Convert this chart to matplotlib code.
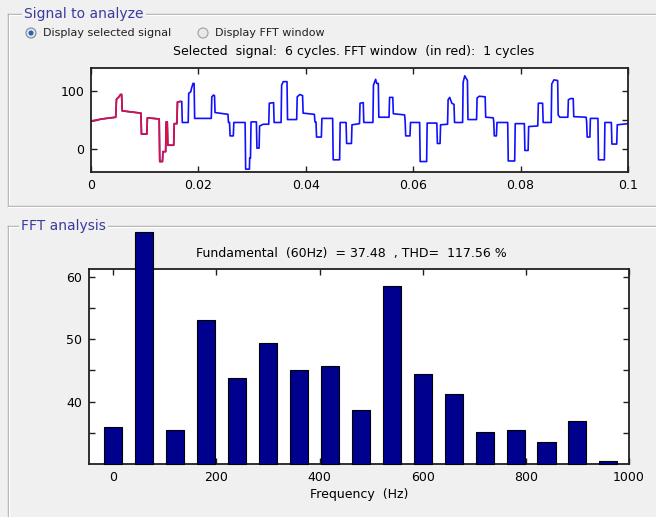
import numpy as np
import matplotlib.pyplot as plt
from matplotlib.patches import Circle

# ---- data ----
# selected signal: breakpoints (time in ms, value)
sig_t_ms = [0, 2.0, 4.6, 4.75, 5.2, 5.5, 5.7, 5.8, 9.3, 9.4, 10.4, 10.5, 12.7, 12.8,
            13.3, 13.4, 13.9, 14.0, 14.2, 14.3, 15.4, 15.5, 16.0, 16.1, 16.6,
            16.9, 17.0, 18.1, 18.2, 18.6, 18.7, 19.0, 19.2, 19.3, 22.4, 22.5, 22.8,
            23.0, 23.1, 25.5, 25.6, 25.8, 25.9, 26.5, 26.6, 28.7, 28.8, 29.5, 29.55,
            29.7, 29.8, 30.8, 30.9, 31.3, 31.4, 32.1, 33.1, 33.2, 34.0, 34.1, 35.4,
            35.5, 35.8, 36.5, 36.6,
            38.3, 38.4, 38.9, 39.4, 39.5, 41.6, 41.7, 41.9, 42.0, 42.9, 43.0, 45.0,
            45.1, 46.3, 46.4, 47.5, 47.6, 48.5, 48.6, 50.0, 50.1, 50.7, 50.8, 52.5,
            52.6, 53.0, 53.2, 53.5, 53.6, 55.5, 55.6, 56.2, 56.3, 58.4, 58.5, 58.6,
            59.4, 59.5, 61.2, 61.3, 62.5, 62.6, 64.4, 64.5, 65.0, 65.1, 66.4, 66.5,
            66.8, 67.2, 67.6, 67.7, 69.2, 69.3, 69.6, 70.1, 70.2, 71.8, 71.9, 72.3,
            73.4, 73.5, 74.9, 75.0, 75.1, 75.5, 75.6, 77.6, 77.7, 78.9, 79.0, 80.7,
            80.8, 81.4, 81.5, 83.2, 83.3, 84.1, 84.2, 85.7, 85.8, 86.2, 86.9, 87.0,
            87.3, 88.8, 88.9, 89.3, 89.8, 89.9, 92.2, 92.3, 92.4, 92.9, 93.0, 94.4,
            94.5, 95.6, 95.7, 96.9, 97.0, 97.9, 98.0, 100.0]
sig_v = [48, 52, 55, 86, 90, 94, 94, 66, 62, 26, 26, 54, 52, -21,
         -21, -4, -4, 47, 47, 7, 7, 44, 44, 81, 82,
         82, 46, 46, 96, 99, 104, 113, 113, 53, 53, 90, 93,
         92, 63, 60, 46, 46, 23, 23, 46, 46, -34, -34, -15,
         -15, 47, 47, 2, 2, 40, 43, 43, 79, 80, 46, 46,
         110, 116, 116, 51,
         51, 90, 94, 92, 62, 60, 47, 47, 21, 21, 53, 53,
         -18, -18, 46, 46, 10, 10, 42, 44, 79, 80, 46, 46,
         110, 120, 113, 113, 55, 55, 89, 89, 61, 59, 48, 23,
         23, 46, 46, -21, -21, 45, 45, 10, 10, 42, 43, 85,
         89, 79, 77, 46, 46, 115, 126, 118, 51, 51, 88, 91,
         90, 55, 54, 48, 23, 23, 46, 46, -20, -20, 44, 44,
         -2, -2, 39, 40, 79, 79, 46, 46, 112, 119, 118, 59,
         55, 55, 85, 87, 87, 56, 55, 47, 21, 21, 53, 53,
         -18, -18, 46, 46, 9, 9, 42, 44]
fft_window_ms = 16.67

# FFT bars
harm_freq = [0, 60, 120, 180, 240, 300, 360, 420, 480, 540, 600, 660, 720, 780, 840, 900, 960]
harm_mag = [36.0, 67.1, 35.4, 53.0, 43.8, 49.3, 45.0, 45.7, 38.7, 58.5, 44.4, 41.2,
            35.1, 35.4, 33.5, 36.9, 30.5]

W, H = 656, 517
bg = '#f0f0f0'
fig = plt.figure(figsize=(W / 100, H / 100), dpi=100, facecolor=bg)

# background layer in pixel coords for the panel frames and controls
ax_bg = fig.add_axes([0, 0, 1, 1], zorder=-1)
ax_bg.set_xlim(0, W)
ax_bg.set_ylim(H, 0)
ax_bg.axis('off')

def panel(y0, y1, title, tx):
    frame = '#a9a9a9'
    ax_bg.plot([8, W + 5], [y0, y0], color=frame, lw=1)
    ax_bg.plot([9, W + 5], [y0 + 1, y0 + 1], color='white', lw=1)
    ax_bg.plot([8, 8], [y0, y1], color=frame, lw=1)
    ax_bg.plot([9, 9], [y0 + 1, y1], color='white', lw=1)
    ax_bg.plot([8, W + 5], [y1, y1], color=frame, lw=1)
    ax_bg.plot([8, W + 5], [y1 + 1, y1 + 1], color='white', lw=1)
    ax_bg.text(tx, y0, title, color='#3b3b9e', fontsize=10, va='center', ha='left',
               bbox=dict(facecolor=bg, edgecolor='none', pad=1.5))

panel(14, 206, 'Signal to analyze', 24)
panel(226, 530, 'FFT analysis', 21)

# radio buttons
ax_bg.add_patch(Circle((31, 33), 5, facecolor='#dfe6ee', edgecolor='#7a8a9a', lw=0.8))
ax_bg.add_patch(Circle((31, 33), 2.5, facecolor='#2f5fa8', edgecolor='none'))
ax_bg.text(43, 33, 'Display selected signal', fontsize=8, va='center', ha='left', color='#202020')
ax_bg.add_patch(Circle((203, 33), 5, facecolor='#e8e8e8', edgecolor='#a0a0a0', lw=0.8))
ax_bg.text(215, 33, 'Display FFT window', fontsize=8, va='center', ha='left', color='#202020')

ax_bg.text(354, 52, 'Selected  signal:  6 cycles. FFT window  (in red):  1 cycles',
           fontsize=9, va='center', ha='center', color='black')
ax_bg.text(351, 253, 'Fundamental  (60Hz)  = 37.48  , THD=  117.56 %',
           fontsize=9, va='center', ha='center', color='black')

def style_axes(ax):
    for s in ax.spines.values():
        s.set_linewidth(1.3)
        s.set_color('#202020')
    ax.tick_params(direction='in', top=True, right=True, length=4, width=1,
                   labelsize=9, color='#202020', pad=5)

# ---- top: selected signal ----
ax1 = fig.add_axes([91 / W, 1 - 171.7 / H, 537 / W, 103.4 / H])
t = np.array(sig_t_ms) / 1000
v = np.array(sig_v)
ax1.plot(t, v, color='#1010ff', lw=1.2)
red = t <= fft_window_ms / 1000
ax1.plot(t[red], v[red], color='#e0103a', lw=1.2)
ax1.set_xlim(0, 0.1)
ax1.set_ylim(-38.4, 138.9)
ax1.set_xticks([0, 0.02, 0.04, 0.06, 0.08, 0.1])
ax1.set_xticklabels(['0', '0.02', '0.04', '0.06', '0.08', '0.1'])
ax1.set_yticks([0, 50, 100])
ax1.set_yticklabels(['0', '', '100'])
style_axes(ax1)

# ---- bottom: FFT bars ----
ax2 = fig.add_axes([89 / W, 1 - 464.3 / H, 540 / W, 195.3 / H])
y_lo, y_hi = 30, 61.2
ax2.bar(harm_freq, np.array(harm_mag) - y_lo, bottom=y_lo, width=35,
        color='#00008f', edgecolor='black', linewidth=0.8, clip_on=False, zorder=3)
ax2.set_xlim(-47, 1000)
ax2.set_ylim(y_lo, y_hi)
ax2.set_xticks([0, 200, 400, 600, 800, 1000])
ax2.set_yticks([35, 40, 45, 50, 55, 60])
ax2.set_yticklabels(['', '40', '', '50', '', '60'])
ax2.set_xlabel('Frequency  (Hz)', fontsize=9, labelpad=3)
style_axes(ax2)

fig.savefig('out.png', dpi=100, facecolor=bg)
